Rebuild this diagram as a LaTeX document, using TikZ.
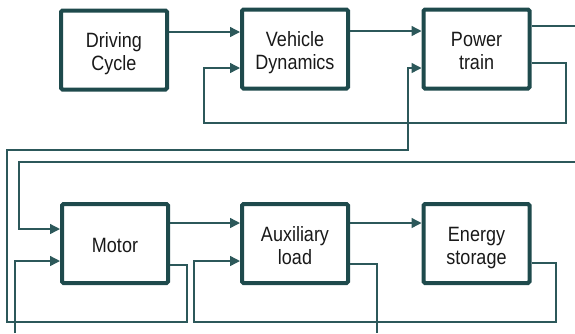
\documentclass[tikz,border=0pt]{standalone}
\usepackage{fontspec}
\setmainfont{Liberation Sans}
\usetikzlibrary{arrows.meta}
\definecolor{boxc}{RGB}{30,74,76}
\definecolor{linec}{RGB}{44,88,90}
\definecolor{txtc}{RGB}{25,25,25}
\newcommand{\btext}[1]{\raisebox{-4.5pt}[\height][\depth]{\scalebox{1}[1.15]{\begin{tabular}{@{}c@{}}#1\end{tabular}}}}
\tikzset{
  blk/.style={draw=boxc, line width=4pt, rounded corners=1.5pt, fill=white,
    minimum width=106pt, minimum height=79pt, inner sep=0pt,
    text=txtc, font=\fontsize{18}{20}\selectfont},
  conn/.style={draw=linec, line width=1.4pt},
  arr/.style={conn, -{Triangle[length=10pt,width=10pt]}}
}
\begin{document}
\begin{tikzpicture}[x=1pt,y=-1pt]
\useasboundingbox (0,0) rectangle (575,333);
\node[blk] (dc) at (114,50) {\btext{Driving\\Cycle}};
\node[blk] (vd) at (295,49) {\btext{Vehicle\\Dynamics}};
\node[blk] (pt) at (476.5,49) {\btext{Power\\train}};
\node[blk] (mo) at (115,243.5) {\btext{Motor}};
\node[blk] (au) at (295,243.5) {\btext{Auxiliary\\load}};
\node[blk] (es) at (476.5,243.5) {\btext{Energy\\storage}};
\coordinate (out1) at (575,26);
\coordinate (in1) at (575,162);
\coordinate (in2) at (15,333);
\coordinate (out2) at (377,333);
% top row
\draw[arr] (dc.east|-0,32) -- (vd.west|-0,32);
\draw[arr] (vd.east|-0,31) -- (pt.west|-0,31);
\draw[conn] (pt.east|-0,26) -- (out1);
\draw[arr] (pt.east|-0,63) -- (566,63) -- (566,123) -- (204,123) -- (204,68) -- (vd.west|-0,68);
% motor feedback to power train
\draw[arr] (mo.east|-0,265) -- (187,265) -- (187,322) -- (7,322) -- (7,150) -- (408,150) -- (408,68) -- (pt.west|-0,68);
% inputs to motor
\draw[arr] (in1) -- (19,162) -- (19,229) -- (mo.west|-0,229);
\draw[arr] (in2) -- (15,261) -- (mo.west|-0,261);
% bottom row
\draw[arr] (mo.east|-0,223) -- (au.west|-0,223);
\draw[arr] (au.east|-0,223) -- (es.west|-0,223);
\draw[arr] (es.east|-0,263) -- (556,263) -- (556,322) -- (194,322) -- (194,261) -- (au.west|-0,261);
\draw[conn] (au.east|-0,264) -- (377,264) -- (out2);
\end{tikzpicture}
\end{document}
